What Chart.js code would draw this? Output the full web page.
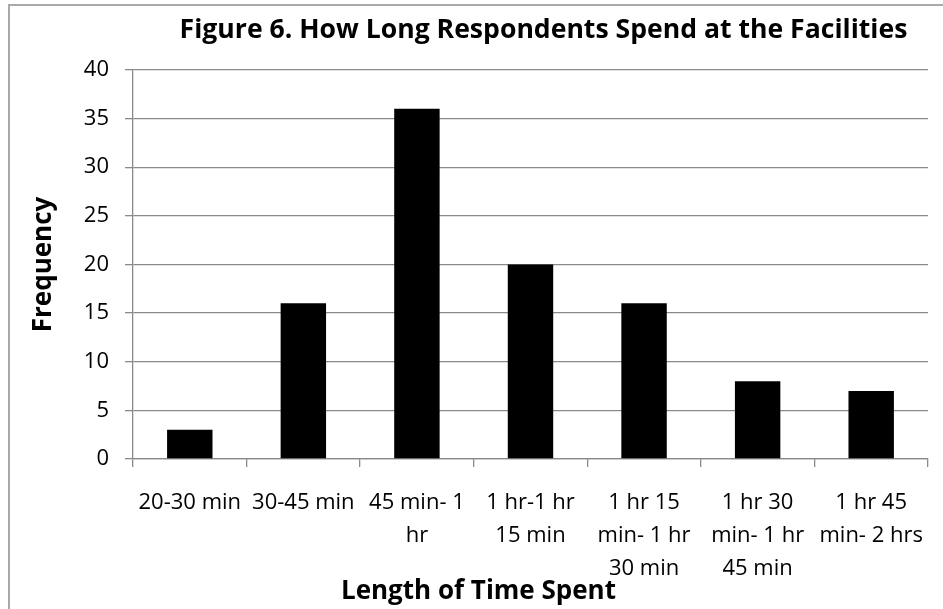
<!DOCTYPE html>
<html><head><meta charset="utf-8">
<script src="https://cdn.jsdelivr.net/npm/chart.js@4/dist/chart.umd.min.js"></script>
<style>
html,body{margin:0;padding:0;background:#fff;}
#wrap{position:relative;width:943px;height:609px;overflow:hidden;}
#frame{position:absolute;left:8px;top:4px;width:945px;height:620px;border:2px solid #a9a9a9;box-sizing:border-box;}
#c{position:absolute;left:0;top:0;}
</style></head><body>
<div id="wrap"><div id="frame"></div><canvas id="c" width="943" height="609"></canvas></div>
<script>
const categories = ["20-30 min", "30-45 min", ["45 min- 1","hr"], ["1 hr-1 hr","15 min"], ["1 hr 15","min- 1 hr","30 min"], ["1 hr 30","min- 1 hr","45 min"], ["1 hr 45","min- 2 hrs"]];
const frequency = [3, 16, 36, 20, 16, 8, 7];
const yTicks = [0, 5, 10, 15, 20, 25, 30, 35, 40];
const titleText = "Figure 6. How Long Respondents Spend at the Facilities";
const xTitle = "Length of Time Spent";
const yTitle = "Frequency";

const FONT = "'Open Sans', sans-serif";
const shiftTitles = {
  id: 'shiftTitles',
  afterLayout(chart) {
    if (chart.titleBlock) { chart.titleBlock.left += 13; chart.titleBlock.right += 13; }
    const s = chart.scales.x;
    if (s && !s._wrapped) {
      const orig = s.drawTitle;
      s.drawTitle = function () {
        const l = this.left, r = this.right;
        this.left = l - 52; this.right = r - 52;
        orig.call(this);
        this.left = l; this.right = r;
      };
      s._wrapped = true;
    }
  }
};
new Chart(document.getElementById('c'), {
  type: 'bar',
  data: { labels: categories, datasets: [{ data: frequency, backgroundColor: '#000', borderWidth: 0, barPercentage: 0.4, categoryPercentage: 1 }] },
  plugins: [shiftTitles],
  options: {
    responsive: false, animation: false,
    layout: { padding: { left: 0, right: 13, top: 0, bottom: 0 } },
    plugins: {
      legend: { display: false }, tooltip: { enabled: false },
      title: { display: true, text: titleText, fullSize: false, color: '#000',
        font: { family: FONT, size: 26.6, weight: 'bold' }, padding: { top: 14, bottom: 24 } }
    },
    scales: {
      y: {
        min: 0, max: 40,
        afterBuildTicks: s => { s.ticks = yTicks.map(v => ({ value: v })); },
        afterFit: s => { s.width = 133; },
        grid: { color: '#8a8a8a', lineWidth: 1.3, tickLength: 8, drawTicks: true },
        border: { color: '#8a8a8a', width: 1.3 },
        ticks: { color: '#000', font: { family: FONT, size: 22 }, padding: 16 },
        title: { display: true, text: yTitle, color: '#000', font: { family: FONT, size: 26, weight: 'bold' }, padding: { top: 28, bottom: 0 } }
      },
      x: {
        afterFit: s => { s.height = 150; },
        grid: { display: true, drawOnChartArea: false, offset: true, color: '#8a8a8a', lineWidth: 1.3, tickLength: 8 },
        border: { color: '#8a8a8a', width: 1.3 },
        ticks: { color: '#000', font: { family: FONT, size: 22, lineHeight: 1.5 }, padding: 19, maxRotation: 0, autoSkip: false },
        title: { display: true, text: xTitle, color: '#000', font: { family: FONT, size: 26, weight: 'bold' }, padding: { top: 0, bottom: 2 } }
      }
    }
  }
});
</script></body></html>
